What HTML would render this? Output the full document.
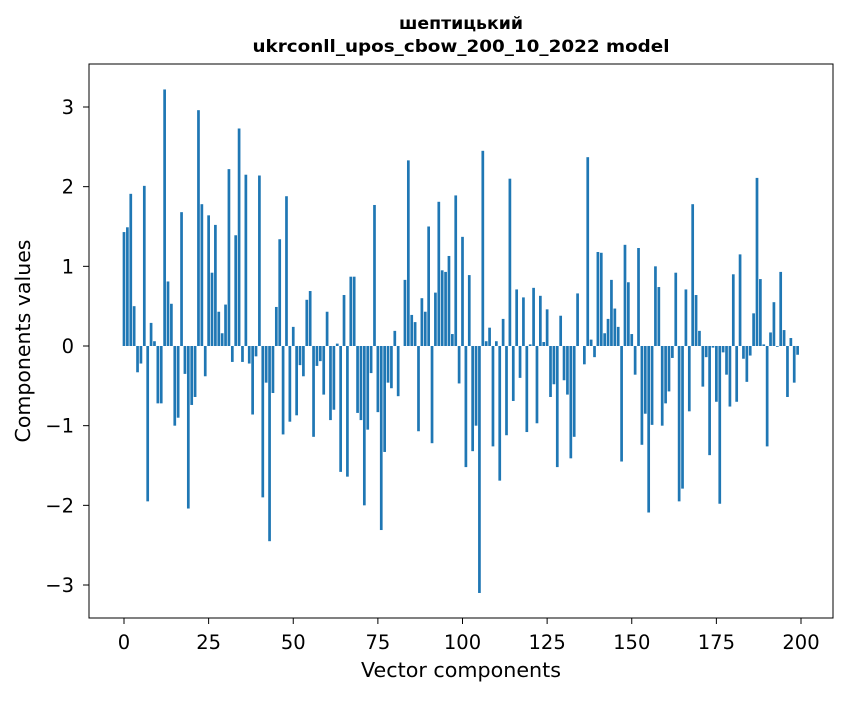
<!DOCTYPE html>
<html><head><meta charset="utf-8"><style>
body{margin:0;background:#fff;}
svg text{font-family:"DejaVu Sans","Liberation Sans",sans-serif;fill:#000;}
</style></head><body>
<svg id="chart" width="847" height="696" viewBox="0 0 847 696" xmlns="http://www.w3.org/2000/svg">
<rect width="847" height="696" fill="#fff"/>
<text x="461" y="29" text-anchor="middle" font-size="17" font-weight="bold" textLength="124" lengthAdjust="spacingAndGlyphs">шептицький</text>
<text x="461" y="52" text-anchor="middle" font-size="17" font-weight="bold" textLength="417" lengthAdjust="spacingAndGlyphs">ukrconll_upos_cbow_200_10_2022 model</text>
<g id="bars"></g>
<g id="axes"></g>
<rect x="89" y="64" width="744" height="554" fill="none" stroke="#000" stroke-width="1"/>
<text x="461" y="677" text-anchor="middle" font-size="20.5" textLength="200" lengthAdjust="spacingAndGlyphs">Vector components</text>
<text transform="translate(30,341) rotate(-90)" text-anchor="middle" font-size="20.5" textLength="203" lengthAdjust="spacingAndGlyphs">Components values</text>
</svg>
<script>
const values = [1.43,1.49,1.91,0.5,-0.33,-0.22,2.01,-1.95,0.29,0.06,-0.72,-0.72,3.22,0.81,0.53,-1.0,-0.9,1.68,-0.35,-2.04,-0.74,-0.64,2.96,1.78,-0.38,
1.64,0.92,1.52,0.43,0.16,0.52,2.22,-0.2,1.39,2.73,-0.2,2.15,-0.22,-0.86,-0.13,2.14,-1.9,-0.46,-2.45,-0.59,0.49,1.34,-1.11,1.88,-0.95,
0.24,-0.87,-0.24,-0.38,0.58,0.69,-1.14,-0.25,-0.19,-0.61,0.43,-0.93,-0.8,0.03,-1.58,0.64,-1.64,0.87,0.87,-0.84,-0.93,-2.0,-1.05,-0.34,1.77,
-0.83,-2.31,-1.33,-0.46,-0.53,0.19,-0.63,0.0,0.83,2.33,0.39,0.3,-1.07,0.6,0.43,1.5,-1.22,0.67,1.81,0.95,0.93,1.13,0.15,1.89,-0.47,
1.37,-1.52,0.89,-1.32,-1.0,-3.1,2.45,0.06,0.23,-1.26,0.06,-1.69,0.34,-1.12,2.1,-0.69,0.71,-0.4,0.61,-1.08,0.02,0.73,-0.97,0.63,0.05,
0.46,-0.64,-0.48,-1.52,0.38,-0.43,-0.61,-1.41,-1.14,0.66,0.0,-0.23,2.37,0.08,-0.14,1.18,1.17,0.16,0.34,0.83,0.47,0.24,-1.45,1.27,0.8,
0.15,-0.36,1.23,-1.24,-0.85,-2.09,-0.99,1.0,0.74,-1.0,-0.72,-0.57,-0.15,0.92,-1.95,-1.79,0.71,-0.82,1.78,0.64,0.19,-0.51,-0.14,-1.37,-0.02,
-0.7,-1.98,-0.08,-0.36,-0.76,0.9,-0.7,1.15,-0.16,-0.45,-0.12,0.41,2.11,0.84,0.02,-1.26,0.17,0.55,-0.01,0.93,0.2,-0.64,0.1,-0.46,-0.11];
const xTicks = [0,25,50,75,100,125,150,175,200];
const yTicks = [-3,-2,-1,0,1,2,3];
const yTickLabels = ["\u22123","\u22122","\u22121","0","1","2","3"];

const NS="http://www.w3.org/2000/svg";
function xScale(v){return 124+(v/200)*677;}
function yScale(v){return 346-v*79.67;}
const bars=document.getElementById('bars');
values.forEach((v,i)=>{
  const r=document.createElementNS(NS,'rect');
  const x0=xScale(i-0.4), x1=xScale(i+0.4);
  const y0=Math.min(yScale(v),yScale(0)), h=Math.abs(yScale(v)-yScale(0));
  r.setAttribute('x',x0);r.setAttribute('width',x1-x0);
  r.setAttribute('y',y0);r.setAttribute('height',h);
  r.setAttribute('fill','#1f77b4');
  
  
  bars.appendChild(r);
});
const axes=document.getElementById('axes');
xTicks.forEach(t=>{
  const x=xScale(t);
  const l=document.createElementNS(NS,'line');
  l.setAttribute('x1',x);l.setAttribute('x2',x);l.setAttribute('y1',618);l.setAttribute('y2',624);
  l.setAttribute('stroke','#000');
  
  
  axes.appendChild(l);
  const tx=document.createElementNS(NS,'text');
  tx.setAttribute('x',x);tx.setAttribute('y',649);tx.setAttribute('text-anchor','middle');tx.setAttribute('font-size','19.5');
  tx.textContent=t;
  
  
  axes.appendChild(tx);
});
yTicks.forEach((t,i)=>{
  const y=yScale(t);
  const l=document.createElementNS(NS,'line');
  l.setAttribute('x1',83);l.setAttribute('x2',89);l.setAttribute('y1',y);l.setAttribute('y2',y);
  l.setAttribute('stroke','#000');
  
  
  axes.appendChild(l);
  const tx=document.createElementNS(NS,'text');
  tx.setAttribute('x',74);tx.setAttribute('y',y+7);tx.setAttribute('text-anchor','end');tx.setAttribute('font-size','19.5');
  tx.textContent=yTickLabels[i];
  
  
  axes.appendChild(tx);
});
</script>
</body></html>
